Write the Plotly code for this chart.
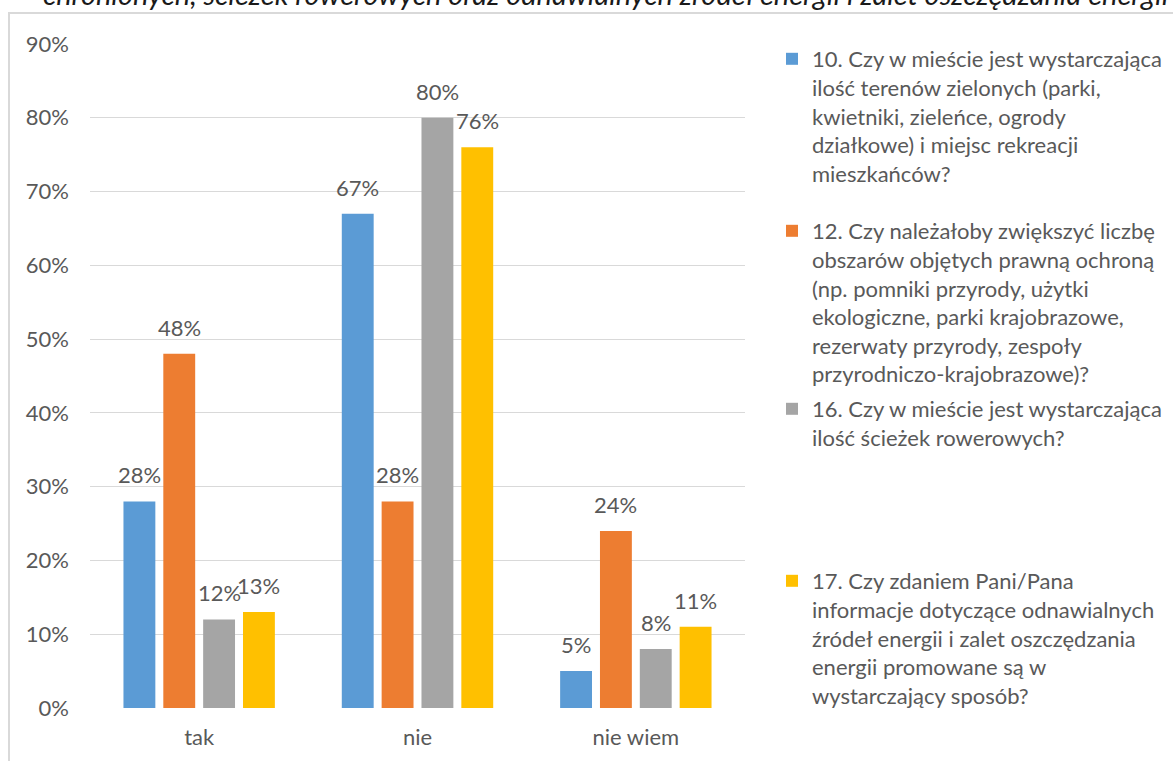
import plotly.graph_objects as go

# --- data -------------------------------------------------------------
categories = ["tak", "nie", "nie wiem"]

series_names = [
    "10. Czy w mieście jest wystarczająca<br>ilość terenów zielonych (parki,<br>"
    "kwietniki, zieleńce, ogrody<br>działkowe) i miejsc rekreacji<br>mieszkańców?",
    "12. Czy należałoby zwiększyć liczbę<br>obszarów objętych prawną ochroną<br>"
    "(np. pomniki przyrody, użytki<br>ekologiczne, parki krajobrazowe,<br>"
    "rezerwaty przyrody, zespoły<br>przyrodniczo-krajobrazowe)?",
    "16. Czy w mieście jest wystarczająca<br>ilość ścieżek rowerowych?",
    "17. Czy zdaniem Pani/Pana<br>informacje dotyczące odnawialnych<br>"
    "źródeł energii i zalet oszczędzania<br>energii promowane są w<br>wystarczający sposób?",
]

q10 = [28, 67, 5]
q12 = [48, 28, 24]
q16 = [12, 80, 8]
q17 = [13, 76, 11]
series_values = [q10, q12, q16, q17]

colors = ["#5B9BD5", "#ED7D31", "#A5A5A5", "#FFC000"]
y_ticks = [0, 10, 20, 30, 40, 50, 60, 70, 80, 90]
y_tick_labels = [f"{t}%" for t in y_ticks]

title_text = ("chronionych, ścieżek rowerowych oraz odnawialnych źródeł energii "
              "i zalet oszczędzania energii")

# --- geometry -----------------------------------------------------------
W, H = 1173, 761
M_L, M_R, M_T, M_B = 90, 428, 44, 53
PLOT_W = W - M_L - M_R
PLOT_H = H - M_T - M_B
BARGAP = 0.27
BARGROUPGAP = 0.2

FONT = "Lato"
FS = 22
TEXT_COLOR = "#595959"
GRID_COLOR = "#d9d9d9"


def px_x(px):
    return (px - M_L) / PLOT_W


def px_y(py):
    return (H - M_B - py) / PLOT_H


fig = go.Figure()

legend_keys = ["legend", "legend2", "legend3", "legend4"]
for name, vals, col, lg in zip(series_names, series_values, colors, legend_keys):
    fig.add_trace(go.Bar(
        x=categories,
        y=vals,
        name=name,
        marker=dict(color=col, line=dict(width=0)),
        legend=lg,
        hoverinfo="x+y",
    ))

# value labels above each bar
n = len(series_values)
slot = PLOT_W / len(categories) * (1 - BARGAP) / n
annotations = []
for i, vals in enumerate(series_values):
    for cat, v in zip(categories, vals):
        annotations.append(dict(
            x=cat, y=v, xref="x", yref="y",
            text=f"{v}%", showarrow=False,
            xshift=(i - (n - 1) / 2) * slot,
            yanchor="bottom", yshift=11,
            font=dict(family=FONT, size=FS, color=TEXT_COLOR),
        ))

# partially visible heading at the very top
annotations.append(dict(
    x=px_x(41), y=px_y(13), xref="paper", yref="paper",
    xanchor="left", yanchor="bottom", showarrow=False,
    text=f"<i>{title_text}</i>",
    font=dict(family=FONT, size=29, color="#1a1a1a"),
))

# chart frame
shapes = [dict(
    type="rect", xref="paper", yref="paper",
    x0=px_x(9), x1=px_x(1190), y0=px_y(780), y1=px_y(13),
    line=dict(color=GRID_COLOR, width=2), fillcolor="rgba(0,0,0,0)",
    layer="below",
)]

legend_font = dict(family=FONT, size=FS, color=TEXT_COLOR)
legend_tops = [38, 210, 388, 560]
legend_layouts = {}
for lg, top in zip(legend_keys, legend_tops):
    legend_layouts[lg] = dict(
        x=px_x(772), y=px_y(top), xanchor="left", yanchor="top",
        font=legend_font, bgcolor="rgba(0,0,0,0)", valign="top",
        itemclick=False, itemdoubleclick=False,
    )

fig.update_layout(
    width=W, height=H,
    margin=dict(l=M_L, r=M_R, t=M_T, b=M_B, autoexpand=False),
    paper_bgcolor="white", plot_bgcolor="white",
    barmode="group", bargap=BARGAP, bargroupgap=BARGROUPGAP,
    font=dict(family=FONT, size=FS, color=TEXT_COLOR),
    showlegend=True,
    annotations=annotations,
    shapes=shapes,
    xaxis=dict(
        type="category", showgrid=False, showline=False, zeroline=False,
        ticks="", ticklabelstandoff=14, automargin=False,
        tickfont=dict(family=FONT, size=FS, color=TEXT_COLOR),
    ),
    yaxis=dict(
        range=[0, 90], tickvals=y_ticks, ticktext=y_tick_labels,
        showgrid=True, gridcolor=GRID_COLOR, gridwidth=1,
        zeroline=False, showline=False, ticks="", ticklabelstandoff=20,
        automargin=False,
        tickfont=dict(family=FONT, size=FS, color=TEXT_COLOR),
    ),
    **legend_layouts,
)

fig.write_html("out.html")
